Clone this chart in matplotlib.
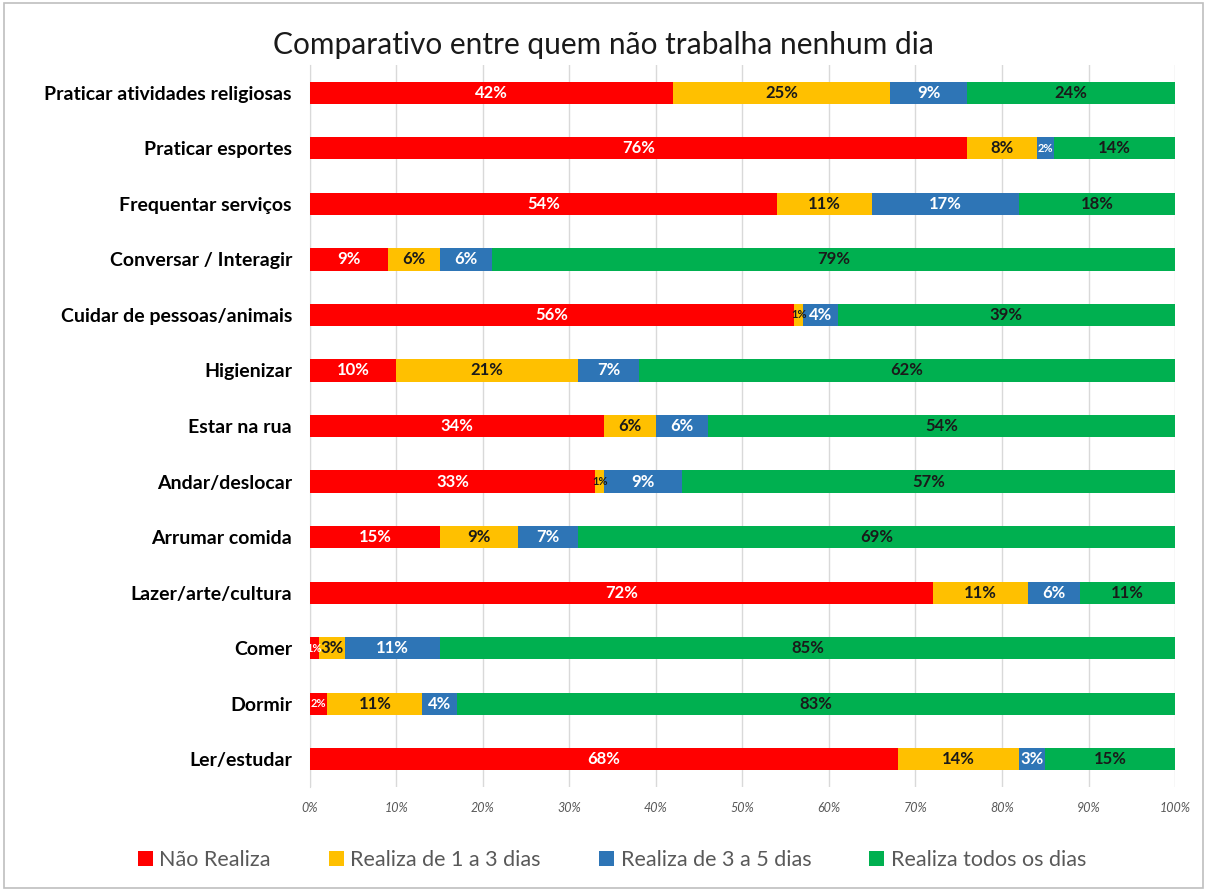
import numpy as np
import matplotlib.pyplot as plt
from matplotlib.patches import Rectangle

categories = ["Praticar atividades religiosas", "Praticar esportes", "Frequentar serviços",
              "Conversar / Interagir", "Cuidar de pessoas/animais", "Higienizar",
              "Estar na rua", "Andar/deslocar", "Arrumar comida", "Lazer/arte/cultura",
              "Comer", "Dormir", "Ler/estudar"]

nao_realiza = [42, 76, 54, 9, 56, 10, 34, 33, 15, 72, 1, 2, 68]
de_1_a_3 = [25, 8, 11, 6, 1, 21, 6, 1, 9, 11, 3, 11, 14]
de_3_a_5 = [9, 2, 17, 6, 4, 7, 6, 9, 7, 6, 11, 4, 3]
todos_dias = [24, 14, 18, 79, 39, 62, 54, 57, 69, 11, 85, 83, 15]

series_names = ["Não Realiza", "Realiza de 1 a 3 dias", "Realiza de 3 a 5 dias", "Realiza todos os dias"]
colors = ["#FF0000", "#FFC000", "#2E75B6", "#00B050"]
label_colors = ["white", "#1a1a1a", "white", "#1a1a1a"]

plt.rcParams['font.family'] = ['Lato', 'DejaVu Sans']

fig = plt.figure(figsize=(12.07, 8.91), dpi=100)
ax = fig.add_axes([0.2568, 0.1167, 0.7167, 0.8103])

y = np.arange(len(categories))
left = np.zeros(len(categories))
for vals, name, col, lcol in zip([nao_realiza, de_1_a_3, de_3_a_5, todos_dias],
                                 series_names, colors, label_colors):
    vals = np.array(vals, dtype=float)
    ax.barh(y, vals, left=left, height=0.4, color=col, label=name, zorder=3)
    for yi, l, v in zip(y, left, vals):
        # tiny segments get a smaller label so neighbours don't collide too much
        fs = 12 if v >= 3 else 8
        ax.text(l + v / 2, yi, f"{int(v)}%", ha="center", va="center",
                color=lcol, fontsize=fs, fontweight="bold", zorder=4)
    left += vals

ax.set_xlim(0, 100)
ax.set_ylim(len(categories) - 0.5, -0.5)
ax.set_xticks(np.arange(0, 101, 10))
ax.set_xticklabels([f"{t}%" for t in range(0, 101, 10)], fontsize=9, style="italic", color="#595959")
ax.set_yticks(y)
ax.set_yticklabels(categories, fontsize=14, fontweight="bold")
ax.tick_params(axis="x", length=0, pad=11)
ax.tick_params(axis="y", length=0, pad=13)
ax.grid(axis="x", color="#D9D9D9", linewidth=1, zorder=0)
for s in ["top", "right", "bottom"]:
    ax.spines[s].set_visible(False)
ax.spines["left"].set_color("#D9D9D9")

fig.text(0.5, 0.949, "Comparativo entre quem não trabalha nenhum dia", ha="center", va="center",
         fontsize=21.5, color="#1a1a1a")

fig.legend(loc="center", bbox_to_anchor=(0.507, 0.035), ncol=4, frameon=False,
           fontsize=15.5, handlelength=0.7, handleheight=0.7, handletextpad=0.3,
           columnspacing=2.7, labelcolor="#595959")

fig.patches.append(Rectangle((0.003, 0.003), 0.994, 0.994, transform=fig.transFigure,
                             fill=False, edgecolor="#BFBFBF", linewidth=1.2))

fig.savefig("out.png", dpi=100)
